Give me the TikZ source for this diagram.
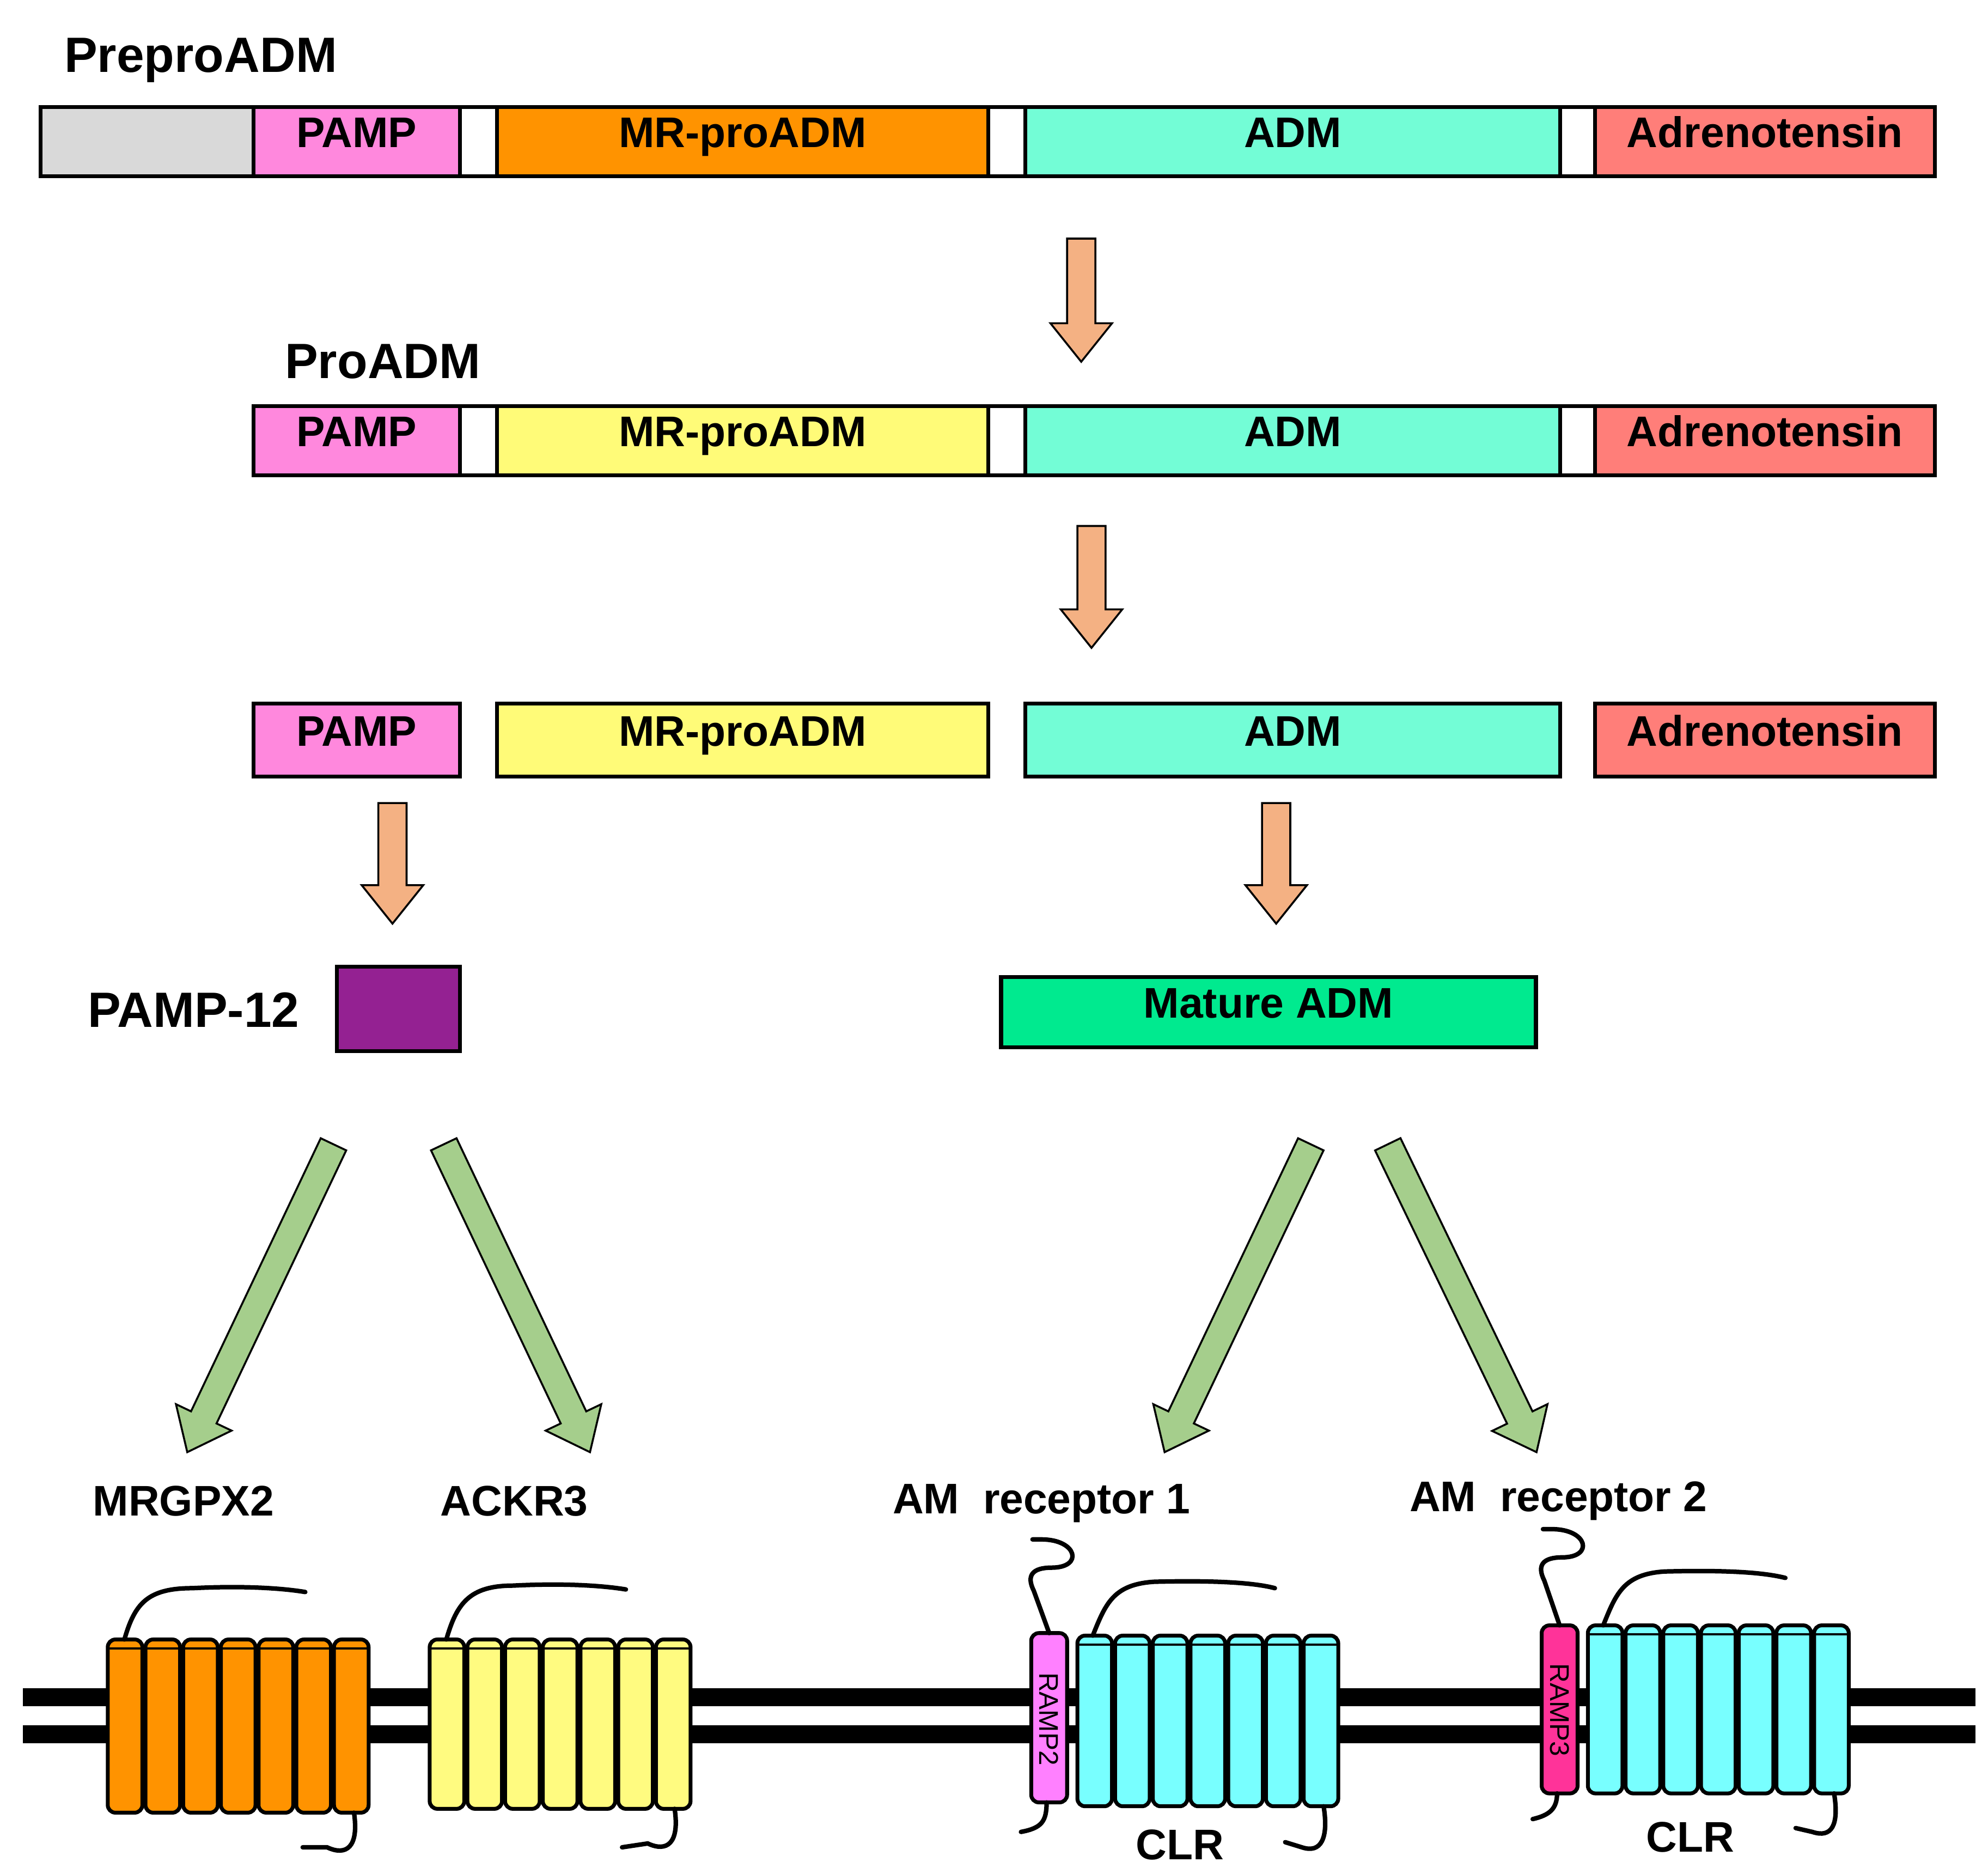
\documentclass[tikz,border=0pt]{standalone}
\usepackage{fontspec}
\setmainfont{Liberation Sans}
\begin{document}
\tikzset{
  seg/.style={draw, line width=0.06cm, font=\fontsize{19}{21}\selectfont\bfseries, inner sep=0pt, text height=0.72em, text depth=0.2em, anchor=north west},
  title/.style={font=\fontsize{22}{24}\selectfont\bfseries, anchor=west},
  rlabel/.style={font=\fontsize{19}{21}\selectfont\bfseries},
  tail/.style={line width=0.07cm, line cap=round},
}
\definecolor{greyseg}{HTML}{D9D9D9}
\definecolor{pampc}{HTML}{FF88DD}
\definecolor{mrorange}{HTML}{FF9300}
\definecolor{mryellow}{HTML}{FFFB78}
\definecolor{admc}{HTML}{73FDD6}
\definecolor{adrc}{HTML}{FF7E79}
\definecolor{purplec}{HTML}{942192}
\definecolor{maturec}{HTML}{00EA8F}
\definecolor{cutarrow}{HTML}{F4B183}
\definecolor{greenarrow}{HTML}{A5CE8C}
\definecolor{helixorange}{HTML}{FF9300}
\definecolor{helixyellow}{HTML}{FFFB80}
\definecolor{helixcyan}{HTML}{78FFFF}
\definecolor{ramptwo}{HTML}{FF80FF}
\definecolor{rampthree}{HTML}{FF3399}
% segment box: name, x1, x2, y1, y2, colour, text
\newcommand{\seg}[7]{\node[seg, fill=#6, minimum width={(#3-#2)*0.02cm}, minimum height={(#5-#4)*0.02cm}] (#1) at (#2,#4) {#7};}
% block arrow: x1, y1, x2, y2, colour
\newcommand{\blockarrow}[5]{%
  \pgfmathsetmacro\adx{#3-#1}\pgfmathsetmacro\ady{#4-#2}
  \pgfmathsetmacro\alen{veclen(\adx,\ady)}\pgfmathsetmacro\aang{atan2(-\ady,\adx)}
  \begin{scope}[shift={(#1,#2)}, rotate=\aang]
    \draw[fill=#5, line width=0.03cm] (0,-11) -- (\alen-30,-11) -- (\alen-30,-24) -- (\alen,0)
      -- (\alen-30,24) -- (\alen-30,11) -- (0,11) -- cycle;
  \end{scope}}
% seven helices: left x, top y, bottom y, colour
\newcommand{\helices}[4]{%
  \foreach \i in {0,...,6}{
    \pgfmathsetmacro\hx{#1+\i*29.4}
    \draw[fill=#4, line width=0.06cm, rounded corners=0.12cm] (\hx,#2) rectangle (\hx+27,#3);
    \draw[line width=0.03cm] (\hx+1,#2+7) -- (\hx+26,#2+7);
  }}
\begin{tikzpicture}[x=0.02cm, y=-0.02cm]
\useasboundingbox (0,0) rectangle (1550,1456);

% precursor rows
\node[title] (prepro) at (44,47) {PreproADM};
\seg{sig}{30}{196}{82}{136}{greyseg}{}
\seg{pamp1}{196}{357}{82}{136}{pampc}{PAMP}
\seg{gap1a}{357}{386}{82}{136}{white}{}
\seg{mr1}{386}{769}{82}{136}{mrorange}{MR-proADM}
\seg{gap1b}{769}{798}{82}{136}{white}{}
\seg{adm1}{798}{1215}{82}{136}{admc}{ADM}
\seg{gap1c}{1215}{1242}{82}{136}{white}{}
\seg{adr1}{1242}{1507}{82}{136}{adrc}{Adrenotensin}

\blockarrow{843}{186}{843}{282}{cutarrow}

\node[title] (pro) at (216,282) {ProADM};
\seg{pamp2}{196}{357}{315}{369}{pampc}{PAMP}
\seg{gap2a}{357}{386}{315}{369}{white}{}
\seg{mr2}{386}{769}{315}{369}{mryellow}{MR-proADM}
\seg{gap2b}{769}{798}{315}{369}{white}{}
\seg{adm2}{798}{1215}{315}{369}{admc}{ADM}
\seg{gap2c}{1215}{1242}{315}{369}{white}{}
\seg{adr2}{1242}{1507}{315}{369}{adrc}{Adrenotensin}

\blockarrow{851}{410}{851}{505}{cutarrow}

\seg{pamp3}{196}{357}{547}{604}{pampc}{PAMP}
\seg{mr3}{386}{769}{547}{604}{mryellow}{MR-proADM}
\seg{adm3}{798}{1215}{547}{604}{admc}{ADM}
\seg{adr3}{1242}{1507}{547}{604}{adrc}{Adrenotensin}

\blockarrow{306}{626}{306}{720}{cutarrow}
\blockarrow{995}{626}{995}{720}{cutarrow}

% mature peptides
\node[title, anchor=center] (pamp12) at (151,787) {PAMP-12};
\seg{pamp12box}{261}{357}{752}{818}{purplec}{}
\seg{mature}{779}{1196}{760}{815}{maturec}{Mature ADM}

% receptor binding
\blockarrow{260}{892}{146}{1132}{greenarrow}
\blockarrow{346}{892}{460}{1132}{greenarrow}
\blockarrow{1022}{892}{908}{1132}{greenarrow}
\blockarrow{1082}{892}{1198}{1132}{greenarrow}

\node[rlabel] (mrgpx2) at (143,1170) {MRGPX2};
\node[rlabel] (ackr3) at (401,1170) {ACKR3};
\node[rlabel] (amr1) at (812,1172) {AM\ \ receptor 1};
\node[rlabel] (amr2) at (1215,1170) {AM\ \ receptor 2};

% membrane
\draw[line width=0.28cm] (18,1323) -- (1540,1323);
\draw[line width=0.28cm] (18,1352) -- (1540,1352);

% MRGPX2
\helices{84}{1278}{1413}{helixorange}
\draw[tail] (97,1278) .. controls (105,1250) and (115,1238) .. (150,1238) .. controls (190,1236) and (220,1238) .. (238,1241);
\draw[tail] (276,1413) .. controls (280,1440) and (270,1447) .. (255,1440) -- (236,1440);
% ACKR3
\helices{335}{1278}{1410}{helixyellow}
\draw[tail] (348,1278) .. controls (356,1250) and (366,1236) .. (400,1236) .. controls (440,1234) and (470,1236) .. (488,1239);
\draw[tail] (526,1410) .. controls (530,1437) and (520,1444) .. (505,1437) -- (485,1440);

% AM receptor 1
\draw[fill=ramptwo, line width=0.06cm, rounded corners=0.12cm] (804,1273) rectangle (832,1405);
\node[rotate=-90, font=\fontsize{12}{12}\selectfont] (ramp2) at (818,1340) {RAMP2};
\helices{840}{1275}{1408}{helixcyan}
\draw[tail] (818,1273) -- (806,1240) .. controls (800,1228) and (805,1222) .. (820,1222) .. controls (845,1222) and (840,1200) .. (812,1200) -- (805,1200);
\draw[tail] (816,1405) .. controls (816,1420) and (812,1425) .. (796,1428);
\draw[tail] (852,1275) .. controls (862,1250) and (868,1235) .. (900,1233) .. controls (940,1232) and (975,1233) .. (994,1238);
\draw[tail] (1032,1408) .. controls (1036,1433) and (1030,1445) .. (1015,1440) -- (1002,1436);
\node[rlabel] (clr1) at (920,1438) {CLR};

% AM receptor 2
\draw[fill=rampthree, line width=0.06cm, rounded corners=0.12cm] (1202,1267) rectangle (1230,1398);
\node[rotate=-90, font=\fontsize{12}{12}\selectfont] (ramp3) at (1216,1333) {RAMP3};
\helices{1238}{1267}{1398}{helixcyan}
\draw[tail] (1216,1267) -- (1204,1232) .. controls (1198,1220) and (1203,1214) .. (1218,1214) .. controls (1243,1214) and (1238,1192) .. (1210,1192) -- (1203,1192);
\draw[tail] (1214,1398) .. controls (1214,1410) and (1208,1415) .. (1195,1418);
\draw[tail] (1250,1267) .. controls (1260,1242) and (1266,1227) .. (1298,1225) .. controls (1340,1224) and (1372,1225) .. (1392,1230);
\draw[tail] (1430,1398) .. controls (1434,1423) and (1428,1433) .. (1413,1428) -- (1400,1425);
\node[rlabel] (clr2) at (1318,1432) {CLR};
\end{tikzpicture}
\end{document}
